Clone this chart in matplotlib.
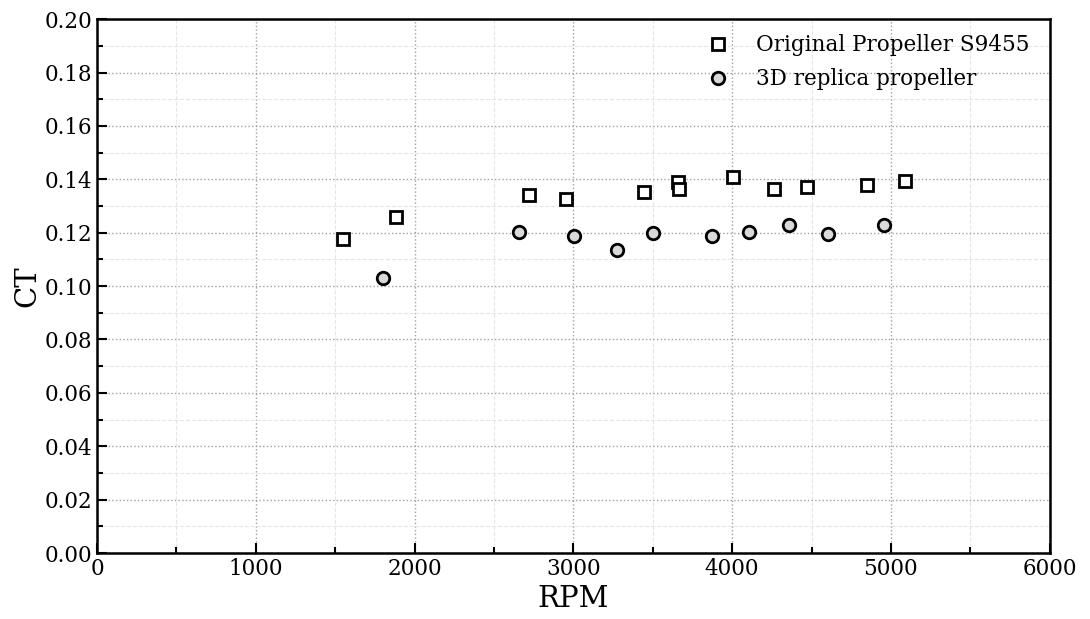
import numpy as np
import matplotlib.pyplot as plt
from matplotlib.ticker import MultipleLocator

plt.rcParams['font.family'] = ['DejaVu Serif']
plt.rcParams['mathtext.fontset'] = 'dejavuserif'

rpm_orig = [1549, 1883, 2720, 2953, 3444, 3659, 3665, 4005, 4263, 4471, 4849, 5088]
ct_orig = [0.1176, 0.1258, 0.1341, 0.1326, 0.1352, 0.1390, 0.1363, 0.1408, 0.1363, 0.1371, 0.1378, 0.1393]

rpm_rep = [1801, 2657, 3004, 3275, 3501, 3873, 4106, 4358, 4603, 4956]
ct_rep = [0.1030, 0.1202, 0.1187, 0.1135, 0.1199, 0.1187, 0.1202, 0.1228, 0.1195, 0.1228]

fig = plt.figure(figsize=(10.9, 6.19), dpi=100)
ax = fig.add_axes([0.089, 0.1066, 0.874, 0.8624])

ax.plot(rpm_orig, ct_orig, 's', ms=9, mfc='white', mec='black', mew=2.0,
        label='Original Propeller S9455')
ax.plot(rpm_rep, ct_rep, 'o', ms=9, mfc='#d9d9d9', mec='black', mew=2.0,
        label='3D replica propeller')

ax.set_xlim(0, 6000)
ax.set_ylim(0, 0.20)
ax.xaxis.set_major_locator(MultipleLocator(1000))
ax.xaxis.set_minor_locator(MultipleLocator(500))
ax.yaxis.set_major_locator(MultipleLocator(0.02))
ax.yaxis.set_minor_locator(MultipleLocator(0.01))
ax.yaxis.set_major_formatter(plt.FormatStrFormatter('%.2f'))

ax.grid(which='major', color='#a0a0a0', linestyle=':', linewidth=1.0)
ax.grid(which='minor', color='#e6e6e6', linestyle='--', linewidth=0.8)
ax.set_axisbelow(True)

ax.tick_params(which='both', direction='in', labelsize=15.5, width=1.5)
ax.tick_params(which='major', length=7)
ax.tick_params(which='minor', length=4)
for s in ax.spines.values():
    s.set_linewidth(1.8)

ax.set_xlabel('RPM', fontsize=21, labelpad=4)
ax.set_ylabel('CT', fontsize=21, labelpad=2)

ax.legend(loc='upper right', frameon=False, fontsize=15.5, handletextpad=1.0,
          handlelength=1.6, labelspacing=0.55, borderaxespad=0.3,
          bbox_to_anchor=(0.995, 1.0))

fig.savefig('out.png', dpi=100)
